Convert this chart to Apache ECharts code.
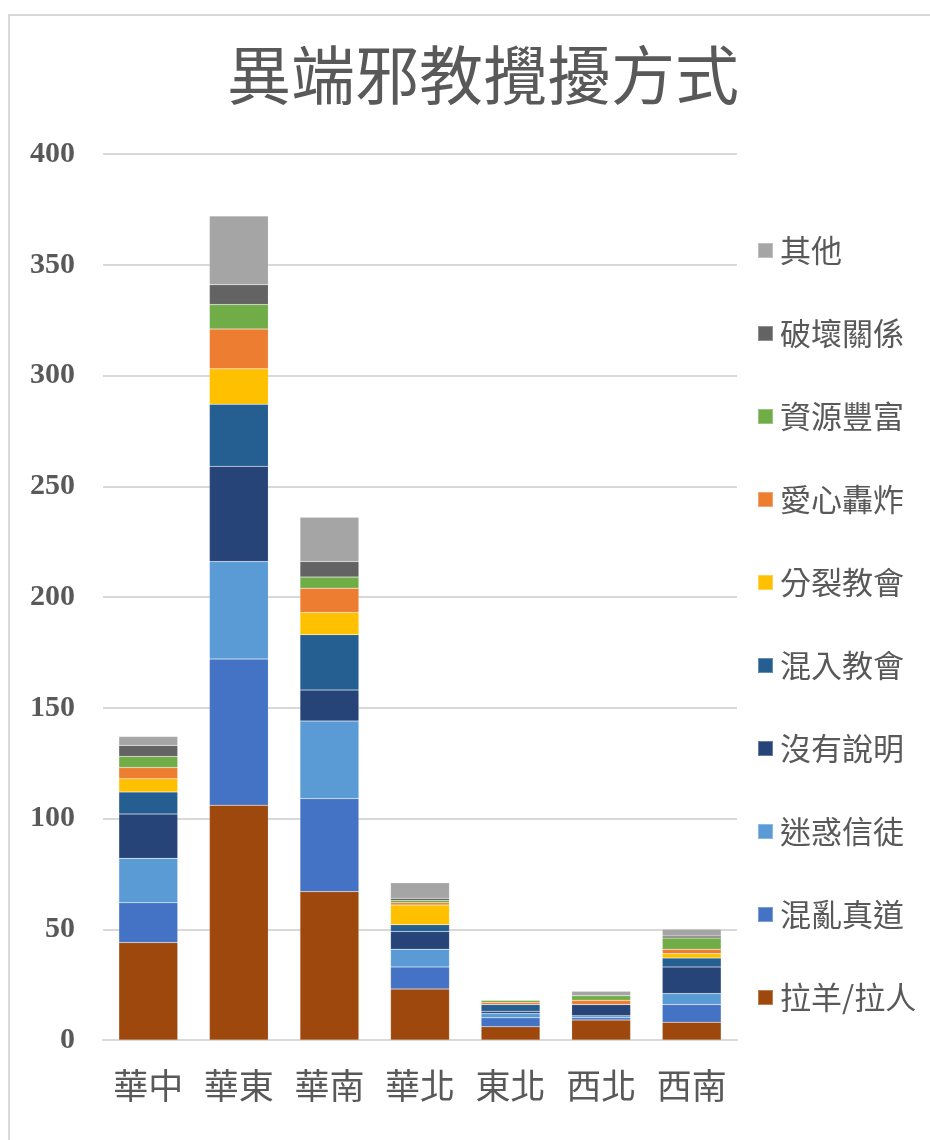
<!DOCTYPE html>
<html><head><meta charset="utf-8">
<script src="https://cdn.jsdelivr.net/npm/echarts@6/dist/echarts.min.js"></script>
<style>
html,body{margin:0;padding:0;background:#fff;}
#frame{position:absolute;left:8px;top:14px;width:940px;height:1140px;border:2px solid #d9d9d9;box-sizing:border-box;}
#c{position:absolute;left:0;top:0;width:930px;height:1140px;}
</style>
</head><body>
<div id="frame"></div>
<div id="c"></div>
<script>
var categories = ['華中','華東','華南','華北','東北','西北','西南'];
var seriesNames = ['拉羊/拉人','混亂真道','迷惑信徒','沒有說明','混入教會','分裂教會','愛心轟炸','資源豐富','破壞關係','其他'];
var lamb      = [44,106,67,23,6,9,8];
var confuse   = [18,66,42,10,4,1,8];
var mislead   = [20,44,35,8,2,1,5];
var noExplain = [20,43,14,8,1,5,12];
var infiltrate= [10,28,25,3,3,0,4];
var split     = [6,16,10,9,0,0,2];
var love      = [5,18,11,1,1,2,2];
var resource  = [5,11,5,1,1,2,5];
var destroy   = [5,9,7,1,0,0,1];
var other     = [4,31,20,7,0,2,3];
var yTicks = [0,50,100,150,200,250,300,350,400];
var colors = ['#9E480E','#4472C4','#5B9BD5','#264478','#255E91','#FFC000','#ED7D31','#70AD47','#636363','#A5A5A5'];
var values = [lamb,confuse,mislead,noExplain,infiltrate,split,love,resource,destroy,other];

var chart = echarts.init(document.getElementById('c'));
var series = seriesNames.map(function(n,i){
  return {name:n,type:'bar',stack:'all',data:values[i],barWidth:'65%',
    itemStyle:{color:colors[i],borderColor:'rgba(255,255,255,0.3)',borderWidth:0.5}};
});
chart.setOption({
  animation:false,
  title:{text:'異端邪教攪擾方式',left:478,textAlign:'center',top:38,
    textStyle:{fontSize:64,fontWeight:'normal',color:'#595959',fontFamily:'"Noto Sans CJK TC"'}},
  grid:{left:103,right:193,top:154,bottom:100},
  legend:{orient:'vertical',left:752,top:230,itemWidth:15,itemHeight:15,itemGap:52,
    icon:'rect',data:seriesNames.slice().reverse(),
    textStyle:{fontSize:31,color:'#595959',fontFamily:'"Noto Sans CJK TC"',padding:[0,0,0,2]}},
  xAxis:{type:'category',data:categories,
    axisLine:{lineStyle:{color:'#d9d9d9',width:2}},axisTick:{show:false},
    axisLabel:{interval:0,fontSize:35,color:'#595959',margin:28,fontFamily:'"Noto Sans CJK TC"'}},
  yAxis:{type:'value',min:yTicks[0],max:yTicks[yTicks.length-1],interval:50,
    axisLine:{show:false},axisTick:{show:false},
    splitLine:{lineStyle:{color:'#d9d9d9',width:2}},
    axisLabel:{fontSize:30,fontWeight:'bold',color:'#595959',margin:28,fontFamily:'"Liberation Serif"'}},
  series:series
});
</script>
</body></html>
